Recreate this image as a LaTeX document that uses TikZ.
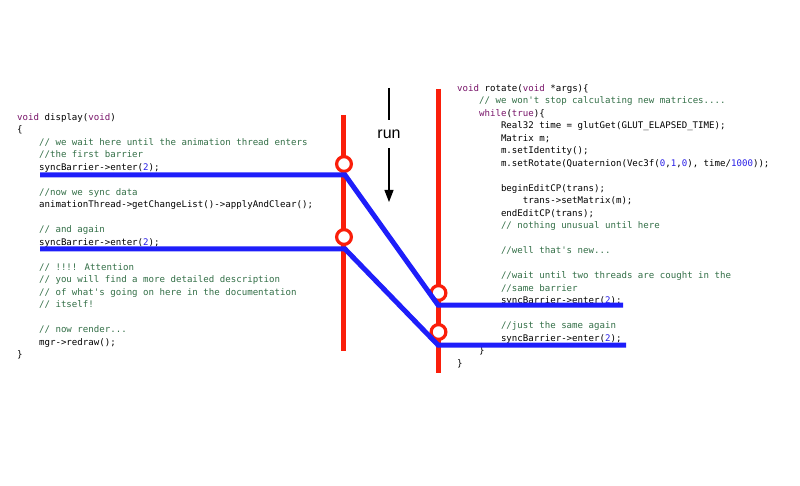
\documentclass[tikz,border=0pt]{standalone}
\usepackage{fontspec}
\setmainfont{Liberation Sans}
\newfontfamily\codefont{DejaVu Sans Mono}
\usetikzlibrary{arrows.meta,positioning}
\definecolor{barred}{RGB}{250,30,10}
\definecolor{syncblue}{RGB}{30,30,250}
\definecolor{cmtgreen}{RGB}{50,110,70}
\definecolor{kwpurple}{RGB}{120,20,105}
\definecolor{numblue}{RGB}{40,30,230}
\newcommand{\cmt}[1]{\textcolor{cmtgreen}{#1}}
\newcommand{\kw}[1]{\textcolor{kwpurple}{#1}}
\newcommand{\numc}[1]{\textcolor{numblue}{#1}}
\newcommand{\ind}{\hspace*{21.9pt}}
\tikzset{
  thread/.style={barred, line width=5pt},
  sync/.style={syncblue, line width=5pt},
  barrier/.style={circle, draw=barred, fill=white, line width=3.2pt,
                  minimum size=14.8pt, inner sep=0pt},
  code/.style={font=\codefont\fontsize{9.1pt}{12.5pt}\selectfont,
               align=left, inner sep=0pt, anchor=north west},
  runarr/.style={-{Triangle[length=12pt,width=9pt]}, line width=1.2pt},
}

\begin{document}
\begin{tikzpicture}[x=1pt, y=-1pt]
  \useasboundingbox (0,0) rectangle (800,486);
  % the two code listings
  \node[code] (disp) at (17,113) {%
\kw{void} display(\kw{void})\\
\{\\
\ind\cmt{// we wait here until the animation thread enters}\\
\ind\cmt{//the first barrier}\\
\ind syncBarrier->enter(\numc{2});\\[12.5pt]
\ind\cmt{//now we sync data}\\
\ind animationThread->getChangeList()->applyAndClear();\\[12.5pt]
\ind\cmt{// and again}\\
\ind syncBarrier->enter(\numc{2});\\[12.5pt]
\ind\cmt{// !!!! Attention}\\
\ind\cmt{// you will find a more detailed description}\\
\ind\cmt{// of what\textquotesingle s going on here in the documentation}\\
\ind\cmt{// itself!}\\[12.5pt]
\ind\cmt{// now render...}\\
\ind mgr->redraw();\\
\}};
  \node[code] (rot) at (457,84) {%
\kw{void} rotate(\kw{void} *args)\{\\
\ind\cmt{// we won\textquotesingle t stop calculating new matrices....}\\
\ind\kw{while}(\kw{true})\{\\
\ind\ind Real32 time = glutGet(GLUT\_ELAPSED\_TIME);\\
\ind\ind Matrix m;\\
\ind\ind m.setIdentity();\\
\ind\ind m.setRotate(Quaternion(Vec3f(\numc{0},\numc{1},\numc{0}), time/\numc{1000}));\\[12.5pt]
\ind\ind beginEditCP(trans);\\
\ind\ind\ind trans->setMatrix(m);\\
\ind\ind endEditCP(trans);\\
\ind\ind\cmt{// nothing unusual until here}\\[12.5pt]
\ind\ind\cmt{//well that\textquotesingle s new...}\\[12.5pt]
\ind\ind\cmt{//wait until two threads are cought in the}\\
\ind\ind\cmt{//same barrier}\\
\ind\ind syncBarrier->enter(\numc{2});\\[12.5pt]
\ind\ind\cmt{//just the same again}\\
\ind\ind syncBarrier->enter(\numc{2});\\
\ind\}\\
\}};

  % threads
  \coordinate (lt) at (343.5,115);
  \coordinate (lb) at (343.5,351);
  \coordinate (rt) at (438.5,89);
  \coordinate (rb) at (438.5,373);
  \draw[thread] (lt) -- (lb);
  \draw[thread] (rt) -- (rb);
  \node[barrier] (l1) at (344,164) {};
  \node[barrier] (l2) at (344,237) {};
  \node[barrier] (r1) at (438.5,293) {};
  \node[barrier] (r2) at (438.5,332) {};

  % sync paths
  \coordinate (a0) at (40,175);  \coordinate (a1) at (345,175);
  \coordinate (a2) at (438,305); \coordinate (a3) at (623,305);
  \coordinate (b0) at (40,249);  \coordinate (b1) at (345,249);
  \coordinate (b2) at (438,345); \coordinate (b3) at (626,345);
  \draw[sync] (a0) -- (a1) -- (a2) -- (a3);
  \draw[sync] (b0) -- (b1) -- (b2) -- (b3);

  % run arrow
  \node[font=\fontsize{16pt}{18pt}\selectfont, minimum height=28pt, inner sep=0pt] (run) at (389,134) {run};
  \coordinate (runtop) at (389,88);
  \coordinate (runtip) at (389,202);
  \draw[line width=1.2pt] (runtop) -- (run.north);
  \draw[runarr] (run.south) -- (runtip);
\end{tikzpicture}
\end{document}
